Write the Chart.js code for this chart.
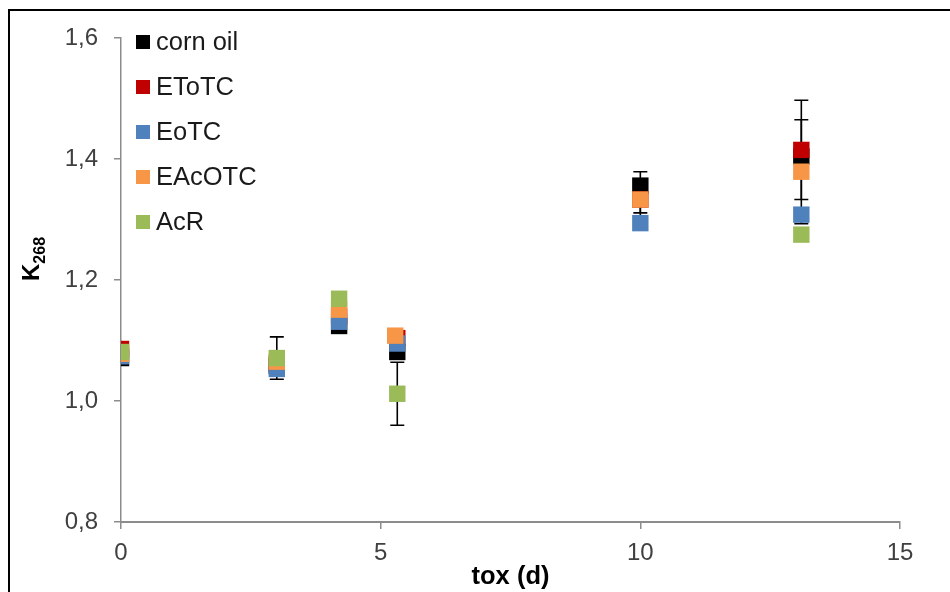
<!DOCTYPE html>
<html>
<head>
<meta charset="utf-8">
<script src="https://cdn.jsdelivr.net/npm/chart.js@4.4.1/dist/chart.umd.min.js"></script>
<style>
  html, body { margin: 0; padding: 0; background: #fff; overflow: hidden; }
  #frame { position: absolute; left: 8px; top: 9px; width: 1000px; height: 1000px;
           border-left: 2px solid #000; border-top: 2px solid #000; }
  #wrap { position: absolute; left: 0; top: 0; width: 950px; height: 592px; }
</style>
</head>
<body>
<div id="frame"></div>
<div id="wrap"><canvas id="chart" width="950" height="592"></canvas></div>
<script>
// oxidation time (days) of each sample
const days = [0, 3, 4.2, 5.32, 10, 13.1];
const eacotcDays = [0, 3, 4.2, 5.28, 10, 13.1];

const seriesNames = ['corn oil', 'EToTC', 'EoTC', 'EAcOTC', 'AcR'];
const seriesColors = ['#000000', '#C00000', '#4F81BD', '#F79646', '#9BBB59'];

// K268 values
const cornOil = [1.071, 1.058, 1.124, 1.081, 1.356, 1.404];
const etotc   = [1.086, 1.062, 1.140, 1.104, 1.333, 1.415];
const eotc    = [1.074, 1.053, 1.131, 1.095, 1.294, 1.308];
const eacotc  = [1.078, 1.065, 1.151, 1.108, 1.333, 1.379];
const acr     = [1.081, 1.071, 1.169, 1.012, null, 1.275];

// standard deviations (null = no bar shown)
const cornOilErr = [null, null, null, null, null, null];
const etotcErr   = [null, null, null, null, 0.022, 0.082];
const eotcErr    = [null, null, null, null, null, null];
const eacotcErr  = [null, null, null, null, 0.046, 0.086];
const acrErr     = [null, 0.035, null, 0.052, null, null];

const yTicks = [0.8, 1.0, 1.2, 1.4, 1.6];
const xTicks = [0, 5, 10, 15];

const FONT = '"Liberation Sans", Arial, sans-serif';

function toPoints(xs, ys) {
  return xs.map((x, i) => ({ x: x, y: ys[i] })).filter(p => p.y !== null);
}

function makeSet(idx, xs, ys, errs) {
  return {
    label: seriesNames[idx],
    data: toPoints(xs, ys),
    errors: xs.map((x, i) => ({ x: x, y: ys[i], e: errs[i] })),
    backgroundColor: seriesColors[idx],
    borderColor: seriesColors[idx],
    borderWidth: 0,
    pointStyle: 'rect',
    pointRadius: 11.6,
    pointHoverRadius: 11.6,
    showLine: false,
    order: 5 - idx   // AcR drawn on top, corn oil at the bottom
  };
}

const errorBars = {
  id: 'errorBars',
  beforeDatasetsDraw(chart) {
    const { ctx } = chart;
    const xs = chart.scales.x, ys = chart.scales.y;
    ctx.save();
    ctx.strokeStyle = '#000';
    ctx.lineWidth = 1.6;
    chart.data.datasets.forEach(ds => {
      ds.errors.forEach(p => {
        if (p.e === null || p.y === null) return;
        const px = xs.getPixelForValue(p.x);
        const top = ys.getPixelForValue(p.y + p.e);
        const bot = ys.getPixelForValue(p.y - p.e);
        ctx.beginPath();
        ctx.moveTo(px, top); ctx.lineTo(px, bot);
        ctx.moveTo(px - 7, top); ctx.lineTo(px + 7, top);
        ctx.moveTo(px - 7, bot); ctx.lineTo(px + 7, bot);
        ctx.stroke();
      });
    });
    ctx.restore();
  }
};

const insideLegend = {
  id: 'insideLegend',
  afterDraw(chart) {
    const { ctx, chartArea } = chart;
    ctx.save();
    ctx.font = '25.5px ' + FONT;
    ctx.textBaseline = 'middle';
    ctx.textAlign = 'left';
    chart.data.datasets.forEach((ds, i) => {
      const cy = chartArea.top + 4 + i * 45;
      ctx.fillStyle = ds.backgroundColor;
      ctx.fillRect(chartArea.left + 15, cy - 7, 14, 14);
      ctx.fillStyle = '#1a1a1a';
      ctx.fillText(ds.label, chartArea.left + 35, cy + 1);
    });
    ctx.restore();
  }
};

const yTitle = {
  id: 'yTitle',
  afterDraw(chart) {
    const { ctx } = chart;
    ctx.save();
    ctx.translate(39, 281);
    ctx.rotate(-Math.PI / 2);
    ctx.fillStyle = '#000';
    ctx.textBaseline = 'alphabetic';
    ctx.textAlign = 'left';
    ctx.font = 'bold 24px ' + FONT;
    ctx.fillText('K', 0, 0);
    const w = ctx.measureText('K').width;
    ctx.font = 'bold 16px ' + FONT;
    ctx.fillText('268', w, 6);
    ctx.restore();
  }
};

new Chart(document.getElementById('chart'), {
  type: 'scatter',
  data: {
    datasets: [
      makeSet(0, days, cornOil, cornOilErr),
      makeSet(1, days, etotc, etotcErr),
      makeSet(2, days, eotc, eotcErr),
      makeSet(3, eacotcDays, eacotc, eacotcErr),
      makeSet(4, days, acr, acrErr)
    ]
  },
  options: {
    responsive: false,
    animation: false,
    devicePixelRatio: 1,
    layout: { padding: { left: 0, top: 38, right: 50, bottom: 0 } },
    plugins: { legend: { display: false }, tooltip: { enabled: false } },
    scales: {
      x: {
        type: 'linear',
        min: 0, max: 15,
        afterBuildTicks: s => { s.ticks = xTicks.map(v => ({ value: v })); },
        afterFit: s => { s.height = 70; },
        ticks: { font: { size: 24, family: FONT }, color: '#404040', padding: 10 },
        grid: { drawOnChartArea: false, tickLength: 7, color: '#8C8C8C', lineWidth: 1.5 },
        border: { color: '#8C8C8C', width: 2 },
        title: { display: true, text: 'tox (d)', color: '#000',
                 font: { size: 25.5, weight: 'bold', family: FONT }, padding: { top: 0, bottom: 0 } }
      },
      y: {
        min: 0.8, max: 1.6,
        afterBuildTicks: s => { s.ticks = yTicks.map(v => ({ value: v })); },
        afterFit: s => { s.width = 121; },
        ticks: { font: { size: 24, family: FONT }, color: '#404040', padding: 16,
                 callback: v => v.toFixed(1).replace('.', ',') },
        grid: { drawOnChartArea: false, tickLength: 7, color: '#8C8C8C', lineWidth: 1.5 },
        border: { color: '#8C8C8C', width: 1.5 }
      }
    }
  },
  plugins: [errorBars, insideLegend, yTitle]
});
</script>
</body>
</html>
